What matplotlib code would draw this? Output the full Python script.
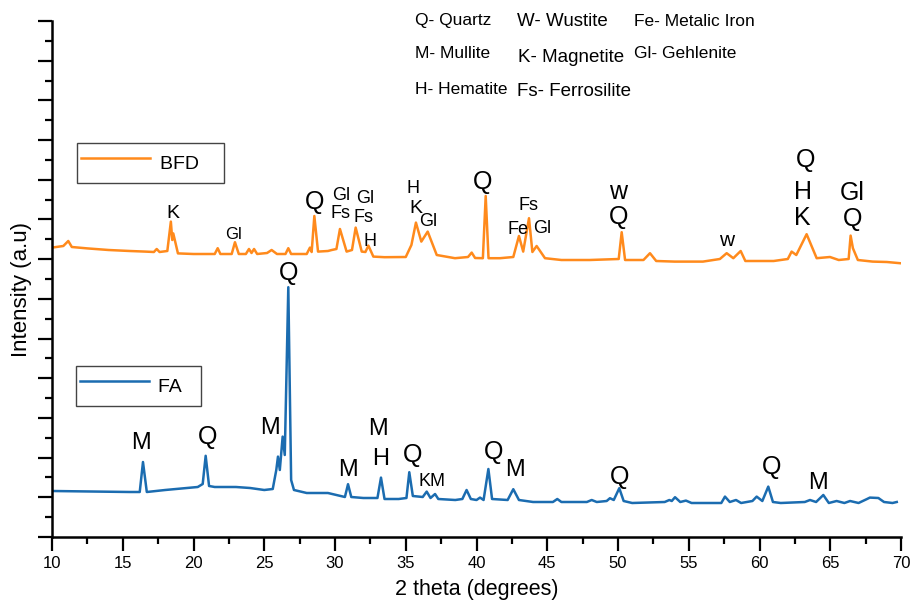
import numpy as np
import matplotlib
matplotlib.use("Agg")
import matplotlib.pyplot as plt
from matplotlib.lines import Line2D

plt.rcParams["font.family"] = ["Liberation Sans", "DejaVu Sans"]

# ---- datos (2 theta, intensidad u.a.) ----
fa_x = [10.0, 15.5, 16.2, 16.43, 16.7, 18.0, 20.3, 20.65, 20.86, 21.1, 21.5, 23.0, 24.0,
        25.0, 25.6, 25.85, 25.97, 26.1, 26.3, 26.45, 26.7, 26.9, 27.1, 28.0, 29.5, 30.7,
        30.92, 31.15, 32.0, 33.0, 33.25, 33.5, 34.5, 35.05, 35.25, 35.5, 36.2, 36.48,
        36.75, 37.07, 37.3, 38.5, 39.0, 39.3, 39.6, 40.0, 40.25, 40.5, 40.84, 41.1, 42.2,
        42.6, 43.0, 44.0, 45.4, 45.71, 46.0, 47.8, 48.14, 48.5, 49.2, 49.43, 49.7, 50.09,
        50.4, 51.0, 53.3, 53.63, 53.8, 54.03, 54.4, 54.8, 55.2, 57.3, 57.56, 57.9, 58.34,
        58.7, 59.5, 59.8, 60.2, 60.62, 60.95, 61.5, 63.2, 63.57, 64.0, 64.51, 64.9, 65.45,
        66.0, 66.4, 67.0, 67.6, 67.8, 68.4, 68.8, 69.4, 69.7]
fa_y = [230, 225, 225, 375, 225, 235, 250, 265, 406, 255, 250, 250, 245,
        235, 240, 335, 402, 335, 502, 410, 1249, 285, 235, 220, 220, 200,
        264, 200, 195, 195, 297, 190, 190, 195, 324, 205, 200, 227,
        195, 215, 190, 185, 190, 235, 190, 185, 197, 185, 340, 190, 185,
        239, 185, 175, 175, 190, 175, 175, 185, 175, 180, 194, 185, 244,
        180, 170, 175, 185, 180, 199, 175, 182, 170, 170, 202, 175, 185,
        170, 180, 202, 180, 252, 175, 170, 175, 185, 175, 210, 170, 180,
        170, 180, 170, 190, 197, 195, 175, 170, 175]

bfd_x = [10.0, 10.8, 11.15, 11.4, 12.5, 14.0, 15.5, 16.6, 17.2, 17.4, 17.6, 18.15, 18.4,
         18.5, 18.57, 18.9, 20.0, 21.5, 21.71, 21.9, 22.7, 22.93, 23.2, 23.7, 23.92, 24.1,
         24.28, 24.5, 25.2, 25.52, 25.9, 26.5, 26.7, 26.9, 28.0, 28.23, 28.35, 28.54, 28.8,
         29.5, 29.77, 30.1, 30.35, 30.82, 31.2, 31.46, 31.89, 32.15, 32.36, 32.71, 33.5,
         35.0, 35.4, 35.72, 36.1, 36.55, 37.19, 38.48, 39.4, 39.66, 39.9, 40.45, 40.65,
         40.85, 41.66, 42.6, 43.0, 43.3, 43.71, 43.95, 44.25, 44.84, 46.0, 48.0, 50.05,
         50.26, 50.5, 51.8, 52.26, 52.7, 54.0, 56.0, 57.2, 57.68, 58.15, 58.67, 59.0, 61.0,
         62.0, 62.27, 62.6, 63.33, 64.04, 64.98, 65.6, 66.3, 66.44, 66.6, 66.95, 68.0,
         69.0, 69.93]
bfd_y = [1447, 1455, 1480, 1450, 1443, 1435, 1430, 1427, 1425, 1440, 1425, 1430, 1577,
         1485, 1518, 1418, 1415, 1415, 1444, 1415, 1415, 1474, 1415, 1415, 1440, 1420,
         1440, 1415, 1420, 1435, 1415, 1415, 1444, 1415, 1415, 1447, 1425, 1605, 1427,
         1430, 1435, 1440, 1540, 1427, 1435, 1547, 1427, 1425, 1457, 1402, 1399,
         1400, 1460, 1572, 1477, 1527, 1410, 1394, 1400, 1422, 1395, 1394, 1705,
         1394, 1394, 1400, 1505, 1427, 1594, 1425, 1455, 1394, 1385, 1385, 1390,
         1524, 1385, 1385, 1419, 1380, 1377, 1377, 1390, 1419, 1394, 1430, 1380, 1380,
         1390, 1427, 1410, 1514, 1394, 1400, 1385, 1390, 1507, 1444, 1385, 1377,
         1375, 1369]

# etiquetas de fases: (texto, 2theta, intensidad, tamano)
bfd_labels = [("K", 18.55, 1619, 14), ("Gl", 22.81, 1514, 12), ("Q", 28.54, 1677, 18),
              ("Gl", 30.42, 1710, 13), ("Fs", 30.42, 1619, 13), ("Gl", 32.12, 1694, 13),
              ("Fs", 32.0, 1599, 13), ("H", 32.47, 1480, 13), ("H", 35.49, 1744, 13),
              ("K", 35.70, 1644, 14), ("Gl", 36.59, 1577, 13), ("Q", 40.44, 1777, 18),
              ("Fs", 43.66, 1660, 13), ("Fe", 42.95, 1539, 13), ("Gl", 44.61, 1544, 13),
              ("w", 50.02, 1727, 18), ("Q", 50.07, 1602, 18), ("w", 57.68, 1485, 15),
              ("Q", 63.26, 1885, 18), ("H", 63.05, 1724, 18), ("K", 63.05, 1594, 18),
              ("Gl", 66.56, 1722, 18), ("Q", 66.56, 1589, 18)]
fa_labels = [("M", 16.27, 472, 17), ("Q", 20.98, 502, 18), ("M", 25.41, 544, 17),
             ("Q", 26.75, 1320, 18), ("M", 30.94, 335, 17), ("M", 33.06, 539, 17),
             ("H", 33.25, 389, 17), ("Q", 35.49, 410, 18), ("KM", 36.83, 277, 13),
             ("Q", 41.19, 427, 18), ("M", 42.72, 335, 17), ("Q", 50.09, 302, 18),
             ("Q", 60.86, 352, 18), ("M", 64.16, 272, 17)]

clave_fases = [("Q- Quartz", 415, 20, 12.5), ("W- Wustite", 517, 22, 13.5),
               ("Fe- Metalic Iron", 634, 21, 12.5), ("M- Mullite", 415, 54, 12.5),
               ("K- Magnetite", 518, 57, 13.5), ("Gl- Gehlenite", 634, 54, 12.5),
               ("H- Hematite", 415, 90, 12.5), ("Fs- Ferrosilite", 517, 91, 13.5)]

NARANJA = "#ff8a1c"
AZUL = "#1b6cb0"

fig = plt.figure(figsize=(9.15, 6.03), dpi=100)
ax = fig.add_axes([52 / 915, 66 / 603, 849 / 915, 516 / 603])

ax.plot(bfd_x, bfd_y, color=NARANJA, lw=1.8)
ax.plot(fa_x, fa_y, color=AZUL, lw=1.8)

for txt, x, y, s in bfd_labels + fa_labels:
    ax.text(x, y, txt, fontsize=s, ha="center", va="center", color="black")

for txt, px, py, s in clave_fases:
    fig.text(px / 915, 1 - py / 603, txt, fontsize=s, ha="left", va="center")

ax.set_xlim(10, 70)
ax.set_ylim(0, 2580)
ax.set_xticks(np.arange(10, 71, 5))
ax.set_xticks(np.arange(12.5, 70, 5), minor=True)
yt = np.linspace(0, 2580, 27)
ax.set_yticks(yt[::2])
ax.set_yticks(yt[1::2], minor=True)
ax.set_yticklabels([])
ax.tick_params(axis="both", which="major", direction="out", length=10, width=1.6, labelsize=12)
ax.tick_params(axis="both", which="minor", direction="out", length=5, width=1.6)
for lado in ["top", "right"]:
    ax.spines[lado].set_visible(False)
for lado in ["left", "bottom"]:
    ax.spines[lado].set_linewidth(1.8)

ax.set_xlabel("2 theta (degrees)", fontsize=15.5, labelpad=6)
ax.set_ylabel("Intensity (a.u)", fontsize=16)
ax.yaxis.set_label_coords(-0.024, 0.479)

estilo = dict(fontsize=14, frameon=True, fancybox=False, edgecolor="#444444",
              framealpha=1, loc="upper left", borderaxespad=0, handlelength=3.55,
              handletextpad=0.5, borderpad=0.2, handleheight=2.2)
leg1 = ax.legend([Line2D([], [], color=NARANJA, lw=1.8)], ["BFD    "],
                 bbox_to_anchor=(0.030, 0.764), **estilo)
leg1.get_frame().set_linewidth(1.0)
ax.add_artist(leg1)
leg2 = ax.legend([Line2D([], [], color=AZUL, lw=1.8)], ["FA   "],
                 bbox_to_anchor=(0.028, 0.332), **estilo)
leg2.get_frame().set_linewidth(1.0)

fig.savefig("out.png", dpi=100)
